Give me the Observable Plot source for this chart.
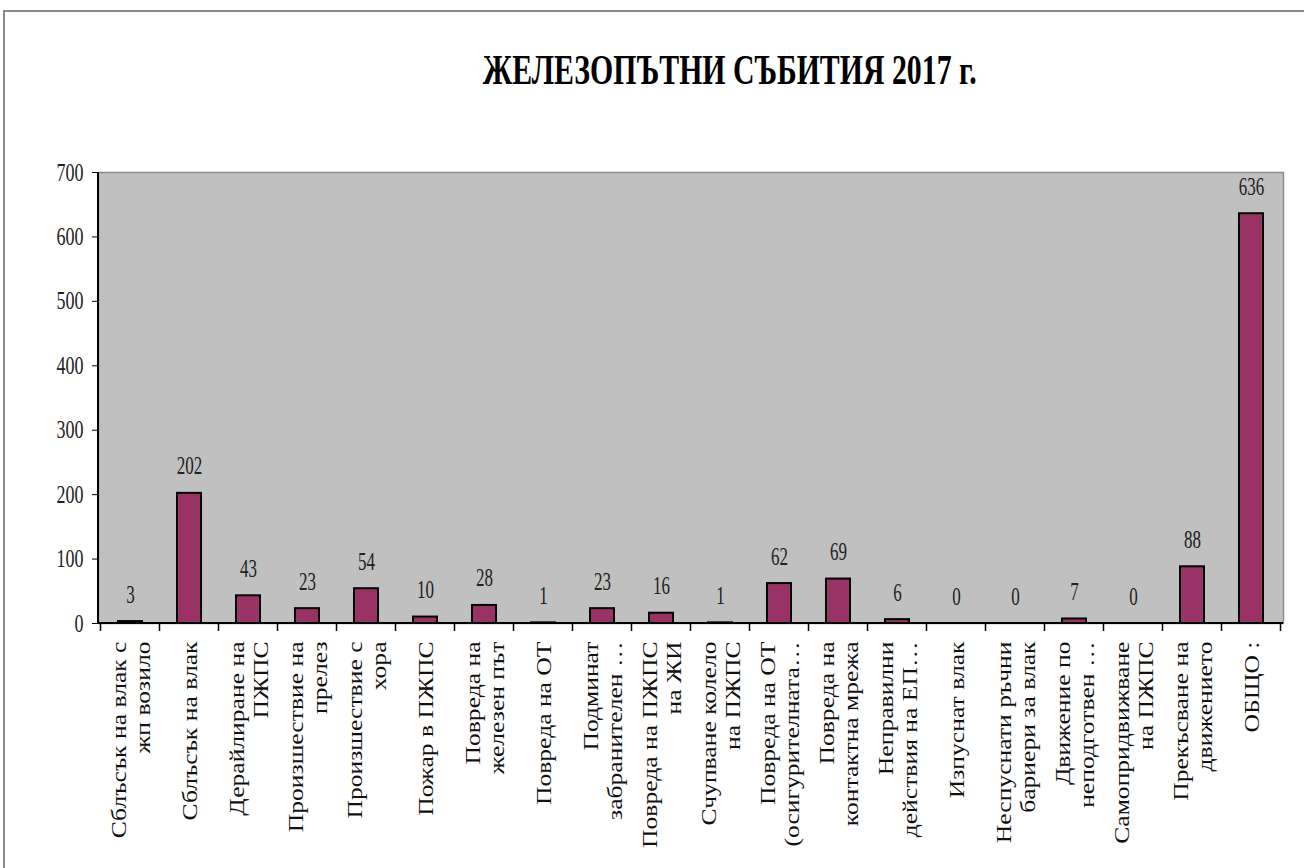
<!DOCTYPE html>
<html><head><meta charset="utf-8">
<script src="https://cdn.jsdelivr.net/npm/d3@7"></script>
<script src="https://cdn.jsdelivr.net/npm/@observablehq/plot@0.6"></script>
<style>
body{margin:0;background:#fff;width:1304px;height:868px;overflow:hidden;position:relative;font-family:"Liberation Serif",serif}
#border{position:absolute;left:3px;top:10px;width:1400px;height:1000px;border-top:2px solid #8a8a8a;border-left:2px solid #8a8a8a}
#title{position:absolute;top:49px;left:156px;width:1148px;text-align:center;font-size:42px;line-height:1;font-weight:bold;color:#000;white-space:nowrap}
#title span{display:inline-block;transform:scaleX(0.71)}
#chart{position:absolute;left:0;top:140px}
</style></head>
<body>
<div id="border"></div>
<div id="title"><span>ЖЕЛЕЗОПЪТНИ СЪБИТИЯ 2017 г.</span></div>
<div id="chart"></div>
<script>
const categories = [
  "Сблъсък на влак с\nжп возило",
  "Сблъсък на влак",
  "Дерайлиране на\nПЖПС",
  "Произшествие на\nпрелез",
  "Произшествие с\nхора",
  "Пожар в ПЖПС",
  "Повреда на\nжелезен път",
  "Повреда на ОТ",
  "Подминат\nзабранителен …",
  "Повреда на ПЖПС\nна ЖИ",
  "Счупване колело\nна ПЖПС",
  "Повреда на ОТ\n(осигурителната…",
  "Повреда на\nконтактна мрежа",
  "Неправилни\nдействия на ЕП…",
  "Изпуснат влак",
  "Неспуснати ръчни\nбариери за влак",
  "Движение по\nнеподготвен …",
  "Самопридвижване\nна ПЖПС",
  "Прекъсване на\nдвижението",
  "ОБЩО :"
];
const values = [3, 202, 43, 23, 54, 10, 28, 1, 23, 16, 1, 62, 69, 6, 0, 0, 7, 0, 88, 636];
const yTicks = [0, 100, 200, 300, 400, 500, 600, 700];

const data = categories.map((c, i) => ({category: c, value: values[i]}));

const axisLines = (index, scales, vals, dims) => {
  const {x, y} = scales;
  const g = d3.create("svg:g");
  const step = x.step(), bw = x.bandwidth();
  const b0 = x(categories[0]) - (step - bw) / 2;
  const y0 = y(0);
  for (let i = 0; i <= categories.length; i++) {
    const px = b0 + i * step;
    g.append("line").attr("x1", px).attr("x2", px).attr("y1", y0).attr("y2", y0 + 8)
      .attr("stroke", "#000").attr("stroke-width", 1.5);
  }
  g.append("line").attr("x1", dims.marginLeft).attr("x2", dims.marginLeft)
    .attr("y1", y(700)).attr("y2", y0).attr("stroke", "#000").attr("stroke-width", 2);
  g.append("line").attr("x1", dims.marginLeft).attr("x2", dims.width - dims.marginRight)
    .attr("y1", y0).attr("y2", y0).attr("stroke", "#000").attr("stroke-width", 2);
  return g.node();
};

const chart = Plot.plot({
  width: 1304,
  height: 728,
  marginTop: 32,
  marginLeft: 98,
  marginRight: 21,
  marginBottom: 245,
  style: {fontFamily: "'Liberation Serif', serif", background: "transparent", color: "#222"},
  x: {domain: categories, paddingInner: 0.6, paddingOuter: 0.3, label: null},
  y: {domain: [0, 700], label: null},
  marks: [
    Plot.frame({fill: "#c0c0c0", stroke: "#8c8c8c", strokeWidth: 1.5}),
    Plot.barY(data, {x: "category", y: "value", fill: "#993366", stroke: "#000", strokeWidth: 2}),
    Plot.text(data, {x: "category", y: "value", text: d => String(d.value), dy: -27, fontSize: 25, fill: "#222", lineAnchor: "middle"}),
    Plot.axisY({ticks: yTicks, tickSize: 6, tickPadding: 9, fontSize: 25, stroke: "#000", tickFormat: d => String(d)}),
    Plot.axisX({tickRotate: -90, tickSize: 0, tickPadding: 18, fontSize: 20, fill: "#111", lineHeight: 1.2}),
    axisLines
  ]
});

function addScale(sel, sx, sy) {
  sel.each(function() {
    const t = this.getAttribute("transform");
    if (t) {
      this.setAttribute("transform", t + ` scale(${sx},${sy})`);
    } else {
      const x = +(this.getAttribute("x") || 0), y = +(this.getAttribute("y") || 0);
      this.removeAttribute("x"); this.removeAttribute("y");
      this.setAttribute("transform", `translate(${x},${y}) scale(${sx},${sy})`);
    }
  });
}
const s = d3.select(chart);
addScale(s.selectAll('g[aria-label="y-axis tick label"] text'), 0.72, 1);
addScale(s.selectAll('g[aria-label="text"] text'), 0.68, 1);
addScale(s.selectAll('g[aria-label="x-axis tick label"] text'), 1.28, 1);

document.getElementById("chart").appendChild(chart);
</script>
</body></html>
